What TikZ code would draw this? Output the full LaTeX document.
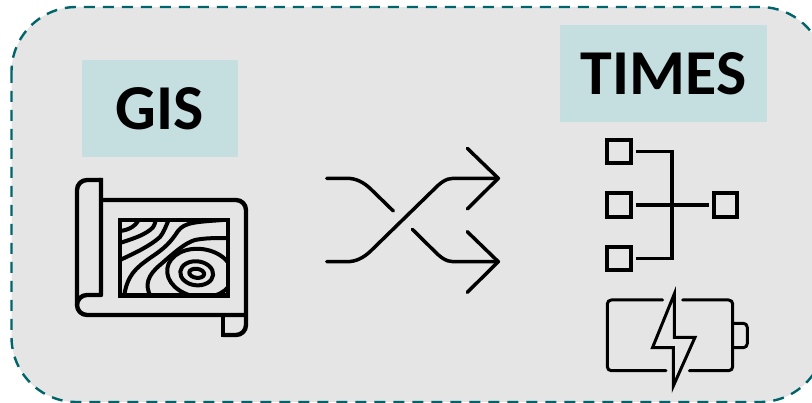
\documentclass[tikz,border=0pt]{standalone}
\usepackage{fontspec}
\setmainfont{Carlito}
\definecolor{panelgrey}{HTML}{E5E5E5}
\definecolor{dashteal}{HTML}{00656B}
\definecolor{labelteal}{HTML}{C5DFE0}
\tikzset{
  labelbox/.style={fill=labelteal,inner sep=0pt,font=\bfseries\fontsize{#1}{#1}\selectfont,text=black},
  icon/.style={draw=black,line width=3.5pt,line cap=round,line join=round},
  contour/.style={draw=black,line width=4pt,line cap=butt,line join=round},
  sq/.style={draw=black,line width=4pt,minimum size=23.6pt,inner sep=0pt,outer sep=5pt},
  tree/.style={draw=black,line width=3.6pt,line join=miter},
}
\begin{document}
\begin{tikzpicture}[x=1pt,y=-1pt]
\useasboundingbox (0,0) rectangle (812,403);
\clip (0,0) rectangle (812,403);
% panel
\draw[fill=panelgrey,draw=dashteal,line width=2.4pt,dash pattern=on 11pt off 8pt,rounded corners=65pt]
  (11.5,7) rectangle (825,402);
% labels
\node[labelbox=64,minimum width=156pt,minimum height=97pt] (gis) at (160,108.5) {GIS};
\node[labelbox=64,minimum width=207pt,minimum height=97pt] (times) at (663.5,73.5) {TIMES};
% map
\draw[contour,line width=4.4pt,rounded corners=10pt]
  (101,180) -- (77,180) -- (77,315) -- (246,315);
\draw[contour,line width=4.4pt]
  (101,178) -- (101,295) -- (87,295) arc[start angle=90,end angle=180,x radius=10,y radius=-10];
\draw[contour,line width=4.4pt,rounded corners=10pt]
  (101,200) -- (246,200) -- (246,335) -- (223,335);
\draw[contour,line width=4.4pt] (223,337) -- (223,315);
\draw[black,line width=4.4pt] (120,220) rectangle (228,295.5);
\begin{scope}
\clip (120,220) rectangle (228,295.5);
\draw[contour] (120,231) .. controls (129,230) and (136,226) .. (139,219);
\draw[contour] (120,243) .. controls (132,239) and (142,236) .. (150,230) .. controls (155,227) and (155,222) .. (156,219);
\draw[contour] (120,260) .. controls (135,253) and (150,246) .. (160,237) .. controls (164,232) and (166,226) .. (169,219);
\draw[contour] (124,297) .. controls (127,275) and (136,268) .. (150,258) .. controls (165,248) and (170,243) .. (178,231) .. controls (185,222) and (195,222) .. (230,219.5);
\draw[contour] (151,297) .. controls (144,285) and (148,275) .. (160,265) .. controls (175,252) and (185,243) .. (195,240) .. controls (205,238) and (215,238) .. (230,238);
\draw[contour,rotate around={-8:(200,273)}] (200,273) ellipse[x radius=33,y radius=24];
\end{scope}
\draw[contour,rotate around={-6:(196.7,273.3)}] (196.7,273.3) ellipse[x radius=16.5,y radius=12];
\draw[contour,rotate around={-8:(196.7,273.3)}] (196.7,273.3) ellipse[x radius=7.5,y radius=4.5];
% shuffle arrows
\draw[icon] (326.7,261.7) -- (346.7,261.7) .. controls (356,261.7) and (363,258) .. (370,251.7)
  -- (433.3,190) .. controls (440,183) and (446,178.3) .. (453.3,178.3) -- (498.3,178.3);
\draw[icon] (467.3,148.3) -- (498.3,178.3) -- (467.3,209);
\draw[icon] (326.7,178.3) -- (346.7,178.3) .. controls (356,178.3) and (363,182) .. (370,188.3) -- (393.3,211);
\draw[icon] (412.3,229.3) -- (433.3,250) .. controls (440,257) and (446,261.7) .. (453.3,261.7) -- (498.3,261.7);
\draw[icon] (467.3,231.7) -- (498.3,261.7) -- (467.3,292.3);
% tree icon
\node[sq] (s1) at (619,151.7) {};
\node[sq] (s2) at (619,205) {};
\node[sq] (s3) at (619,258.5) {};
\node[sq] (s4) at (725.5,205) {};
\coordinate (j) at (672,205);
\draw[tree] (s1.east) -- (j |- s1.east) -- (j |- s3.east) -- (s3.east);
\draw[tree] (s2.east) -- (s4.west);
% battery
\draw[icon,line width=3pt,rounded corners=4pt] (662.7,300) -- (607.3,300) -- (607.3,370.7) -- (666,370.7);
\draw[icon,line width=3pt,rounded corners=4pt] (682.7,300) -- (732.7,300) -- (732.7,370.7) -- (689.3,370.7);
\draw[icon,line width=3pt,line cap=butt,rounded corners=4pt] (733,323.3) -- (747.3,323.3) -- (747.3,347.7) -- (733,347.7);
\draw[draw=black,line width=3pt,line join=miter,miter limit=10]
  (674.3,294) -- (652.5,347.7) -- (673.3,347.7) -- (673.3,386) -- (695,337.3) -- (674.3,337.3) -- cycle;
\end{tikzpicture}
\end{document}
